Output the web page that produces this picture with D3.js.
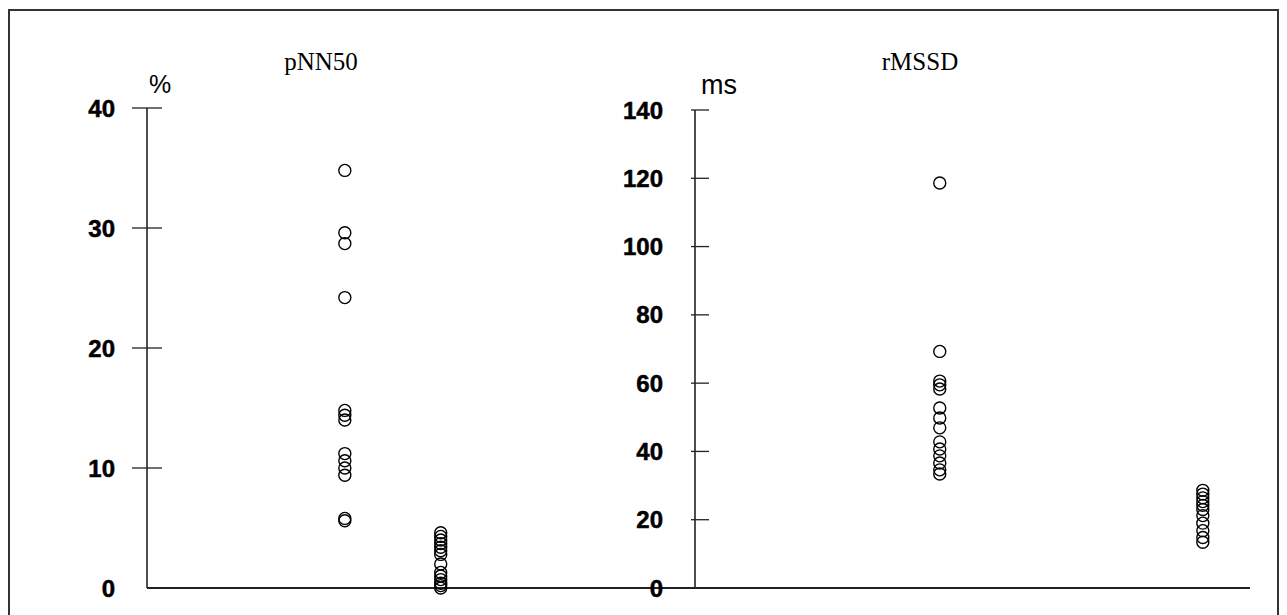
<!DOCTYPE html>
<html><head><meta charset="utf-8">
<script src="https://cdn.jsdelivr.net/npm/d3@7"></script>
<style>body{margin:0;background:#fff}svg{display:block}</style>
</head><body>
<svg id="c" width="1287" height="615"></svg>
<script>
// ---- data ----
const panelTitles = ["pNN50", "rMSSD"];
const panelUnits = ["%", "ms"];
const pnnTicks = [0, 10, 20, 30, 40];
const rmssdTicks = [0, 20, 40, 60, 80, 100, 120, 140];
const groups = ["group1", "group2"];
const pnnGroup1 = [34.8, 29.6, 28.7, 24.2, 14.8, 14.4, 14.0, 11.2, 10.6, 10.0, 9.4, 5.8, 5.6];
const pnnGroup2 = [4.6, 4.3, 4.0, 3.7, 3.4, 3.1, 2.8, 2.0, 1.3, 1.0, 0.7, 0.4, 0.2, 0.0];
const rmssdGroup1 = [118.6, 69.3, 60.6, 59.5, 58.3, 52.7, 49.8, 46.9, 42.8, 40.7, 38.7, 36.6, 34.6, 33.4];
const rmssdGroup2 = [28.6, 27.5, 26.4, 25.3, 24.2, 23.0, 21.2, 19.0, 16.8, 14.8, 13.4];

// ---- layout ----
const svg = d3.select("#c");
svg.append("rect").attr("x", 9).attr("y", 10).attr("width", 1269).attr("height", 640)
  .attr("fill", "none").attr("stroke", "#333").attr("stroke-width", 2);

const baseY = 588;
const panels = [
  {title: panelTitles[0], unit: panelUnits[0], ticks: pnnTicks, domain: [0, 40], top: 108,
   axisX: 147, right: 695, groupPos: [0.361, 0.536], series: [pnnGroup1, pnnGroup2],
   labelX: 115, titleX: 321, unitX: 160, unitY: 93, tickL: 15, tickR: 15, unitSize: 25},
  {title: panelTitles[1], unit: panelUnits[1], ticks: rmssdTicks, domain: [0, 140], top: 110,
   axisX: 695, right: 1250, groupPos: [0.441, 0.915], series: [rmssdGroup1, rmssdGroup2],
   labelX: 663, titleX: 920, unitX: 719, unitY: 94, tickL: 4, tickR: 14, unitSize: 27}
];

panels.forEach(p => {
  const y = d3.scaleLinear().domain(p.domain).range([baseY, p.top]);
  const x = d3.scaleLinear().domain([0, 1]).range([p.axisX, p.right]);
  const gx = d3.scaleOrdinal().domain(groups).range(p.groupPos);
  const g = svg.append("g");

  g.append("line").attr("x1", p.axisX).attr("x2", p.axisX)
    .attr("y1", y(p.domain[1])).attr("y2", y(0))
    .attr("stroke", "#222").attr("stroke-width", 1.6);
  g.append("line").attr("x1", x(0)).attr("x2", x(1))
    .attr("y1", y(0)).attr("y2", y(0))
    .attr("stroke", "#222").attr("stroke-width", 2);
  g.selectAll("line.tk").data(p.ticks.filter(t => t > 0)).join("line")
    .attr("class", "tk")
    .attr("x1", p.axisX - p.tickL).attr("x2", p.axisX + p.tickR)
    .attr("y1", d => y(d)).attr("y2", d => y(d))
    .attr("stroke", "#222").attr("stroke-width", 1.3);
  g.selectAll("text.tl").data(p.ticks).join("text")
    .attr("class", "tl")
    .attr("x", p.labelX).attr("y", d => y(d) + 8.5)
    .attr("text-anchor", "end")
    .attr("font-family", "Liberation Sans, Arial, sans-serif")
    .attr("font-weight", "bold").attr("font-size", 24)
    .attr("stroke", "#000").attr("stroke-width", 0.5)
    .attr("fill", "#000").text(d => d);
  g.append("text").attr("x", p.titleX).attr("y", 70).attr("text-anchor", "middle")
    .attr("font-family", "Liberation Serif, Times New Roman, serif")
    .attr("font-size", 25).attr("fill", "#000").text(p.title);
  g.append("text").attr("x", p.unitX).attr("y", p.unitY).attr("text-anchor", "middle")
    .attr("font-family", "Liberation Sans, Arial, sans-serif")
    .attr("font-size", p.unitSize).attr("fill", "#000").text(p.unit);

  p.series.forEach((vals, i) => {
    g.selectAll(null).data(vals).join("circle")
      .attr("cx", x(gx(groups[i])))
      .attr("cy", d => y(d))
      .attr("r", 6)
      .attr("fill", "none").attr("stroke", "#000").attr("stroke-width", 1.4);
  });
});
</script>
</body></html>
